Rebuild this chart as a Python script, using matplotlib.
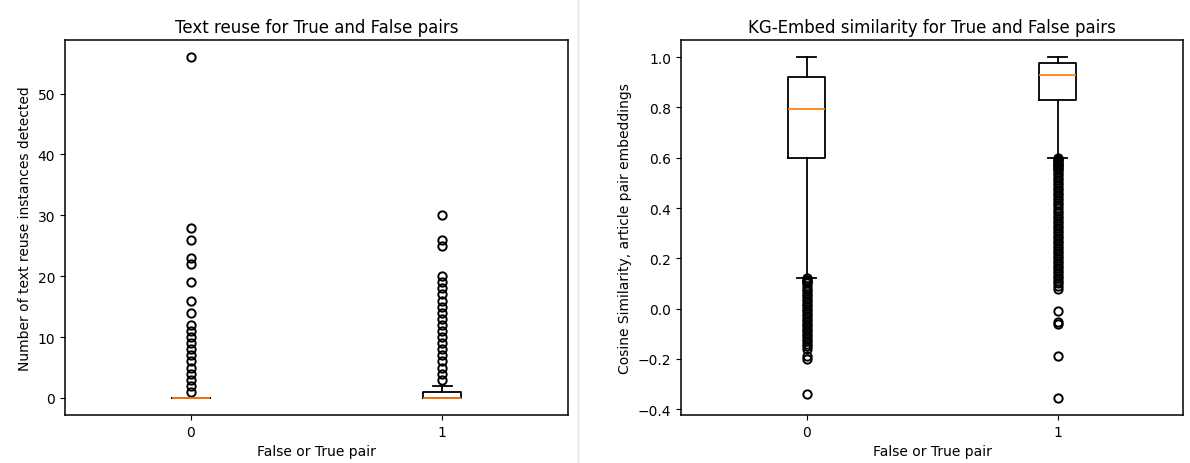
import matplotlib
matplotlib.use("Agg")
import matplotlib.pyplot as plt
from matplotlib.lines import Line2D

# group labels (0 = False pair, 1 = True pair)
groups = ["0", "1"]

# text reuse counts: box stats
reuse_med = [0, 0]
reuse_q1 = [0, 0]
reuse_q3 = [0, 1]
reuse_whislo = [0, 0]
reuse_whishi = [0, 2]
reuse_fliers_false = [1, 2, 3, 4, 5, 6, 7, 8, 9, 10, 11, 12, 14, 16, 19, 22, 23, 26, 28, 56]
reuse_fliers_true = [3, 4, 5, 6, 7, 8, 9, 10, 11, 12, 13, 14, 15, 16, 17, 18, 19, 20,
                     25, 26, 30]

# KG-embed cosine similarity: box stats
sim_med = [0.795, 0.928]
sim_q1 = [0.60, 0.828]
sim_q3 = [0.919, 0.976]
sim_whislo = [0.121, 0.60]
sim_whishi = [1.0, 1.0]
sim_fliers_false = [0.12, 0.115, 0.11, 0.105, 0.10, 0.09, 0.08, 0.07, 0.06, 0.05, 0.04,
                    0.03, 0.02, 0.01, 0.0, -0.01, -0.02, -0.03, -0.04, -0.05, -0.06,
                    -0.07, -0.08, -0.09, -0.10, -0.11, -0.12, -0.13, -0.14, -0.15, -0.16,
                    -0.19, -0.2, -0.34]
sim_fliers_true = [0.60, 0.595, 0.59, 0.585, 0.58, 0.575, 0.57, 0.565, 0.56, 0.555, 0.55,
                   0.54, 0.53, 0.52, 0.51, 0.50, 0.49, 0.48, 0.47, 0.46, 0.45, 0.44,
                   0.43, 0.42, 0.41, 0.40, 0.39, 0.38, 0.37, 0.36, 0.35, 0.34, 0.33,
                   0.32, 0.31, 0.30, 0.29, 0.28, 0.27, 0.26, 0.25, 0.24, 0.23, 0.22,
                   0.21, 0.20, 0.19, 0.18, 0.17, 0.16, 0.15, 0.14, 0.13, 0.12, 0.11,
                   0.10, 0.09, 0.08,
                   -0.01, -0.055, -0.063, -0.19, -0.355]


def make_stats(med, q1, q3, lo, hi, fliers):
    stats = []
    for i in range(len(med)):
        stats.append({"med": med[i], "q1": q1[i], "q3": q3[i],
                      "whislo": lo[i], "whishi": hi[i], "fliers": fliers[i]})
    return stats


# slightly heavier strokes, the reference is a soft upscaled screenshot
lw = 1.3
style = dict(positions=[1, 2], widths=0.15,
             boxprops=dict(linewidth=lw), whiskerprops=dict(linewidth=lw),
             capprops=dict(linewidth=lw), medianprops=dict(linewidth=lw),
             flierprops=dict(markeredgewidth=1.4))

plt.rcParams["axes.linewidth"] = 1.1

fig = plt.figure(figsize=(11.9, 4.64), dpi=100)

# left panel
ax1 = fig.add_axes([65 / 1190, 48 / 464, 503 / 1190, 375 / 464])
ax1.bxp(make_stats(reuse_med, reuse_q1, reuse_q3, reuse_whislo, reuse_whishi,
                   [reuse_fliers_false, reuse_fliers_true]), **style)
ax1.set_xticks([1, 2], groups)
ax1.set_title("Text reuse for True and False pairs")
ax1.set_xlabel("False or True pair")
ax1.set_ylabel("Number of text reuse instances detected")

# right panel
ax2 = fig.add_axes([681 / 1190, 48 / 464, 502 / 1190, 375 / 464])
ax2.bxp(make_stats(sim_med, sim_q1, sim_q3, sim_whislo, sim_whishi,
                   [sim_fliers_false, sim_fliers_true]), **style)
ax2.set_xticks([1, 2], groups)
ax2.set_title("KG-Embed similarity for True and False pairs")
ax2.set_xlabel("False or True pair")
ax2.set_ylabel("Cosine Similarity, article pair embeddings")

# thin divider between the two screenshots
fig.add_artist(Line2D([578 / 1190, 578 / 1190], [0, 1], color="#e3e3e3", lw=1))

fig.savefig("out.png", dpi=100)
